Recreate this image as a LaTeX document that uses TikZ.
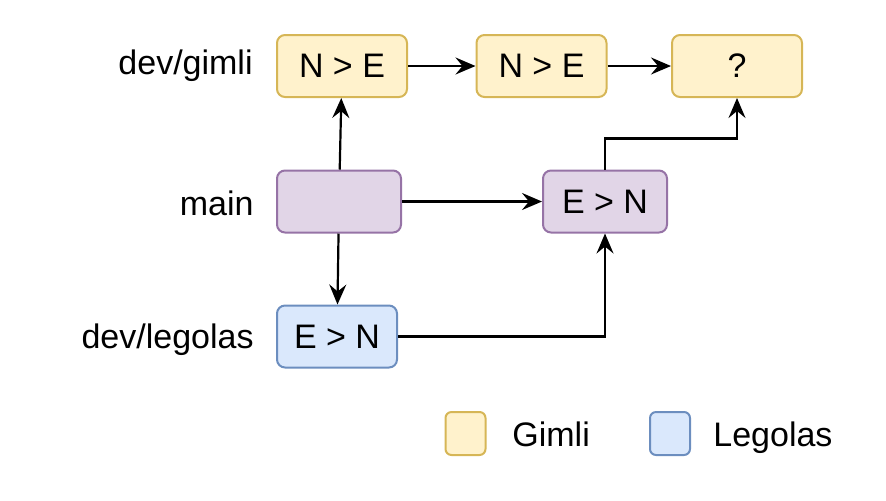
\documentclass[tikz,border=0pt]{standalone}
\usepackage{fontspec}
\setmainfont{Liberation Sans}
\usetikzlibrary{positioning, arrows.meta}
\definecolor{GimliFill}{HTML}{FFF2CC}
\definecolor{GimliLine}{HTML}{D6B656}
\definecolor{MainFill}{HTML}{E1D5E7}
\definecolor{MainLine}{HTML}{9673A6}
\definecolor{LegolasFill}{HTML}{DAE8FC}
\definecolor{LegolasLine}{HTML}{6C8EBF}
\newcommand{\labelfont}{\fontsize{17}{20}\selectfont}
\tikzset{
  commit/.style={rectangle, rounded corners=4pt, line width=1pt, inner sep=0pt,
    minimum height=31pt, font=\labelfont},
  gimli commit/.style={commit, fill=GimliFill, draw=GimliLine, minimum width=65pt},
  main commit/.style={commit, fill=MainFill, draw=MainLine, minimum width=62pt},
  legolas commit/.style={commit, fill=LegolasFill, draw=LegolasLine, minimum width=60pt},
  key box/.style={rectangle, rounded corners=3pt, line width=1pt, minimum width=20pt,
    minimum height=21.5pt, inner sep=0pt},
  branch label/.style={anchor=east, inner sep=0pt, font=\labelfont},
  key label/.style={anchor=base west, inner sep=0pt, font=\labelfont},
  history/.style={-{Stealth[length=10pt, width=8.5pt, inset=3.5pt]}, line width=1.1pt, black}
}

\begin{document}
\begin{tikzpicture}[x=0.5pt, y=-0.5pt]
    \useasboundingbox (0,0) rectangle (886,500);

    % Branch names
    \node[branch label] (lblgimli) at (253,66) {dev/gimli};
    \node[branch label] (lblmain) at (254,203) {main};
    \node[branch label] (lbllegolas) at (254,340) {dev/legolas};

    % Commits on dev/gimli
    \node[gimli commit] (gimli1) at (342,66) {N > E};
    \node[gimli commit] (gimli2) at (541.5,66) {N > E};
    \node[gimli commit] (gimli3) at (737,66) {?};

    % Commits on main
    \node[main commit] (main1) at (339,201.5) {};
    \node[main commit] (main2) at (605,201.5) {E > N};

    % Commit on dev/legolas
    \node[legolas commit] (legolas1) at (337,336.5) {E > N};

    % History
    \draw[history] (gimli1) -- (gimli2);
    \draw[history] (gimli2) -- (gimli3);
    \draw[history] (main1) -- (gimli1);
    \draw[history] (main1) -- (legolas1);
    \draw[history] (main1) -- (main2);
    \draw[history] (legolas1.east) -| (main2.south);
    \draw[history] (main2.north) -- ++(0,-31) -| (gimli3.south);

    % Legend
    \node[key box, fill=GimliFill, draw=GimliLine] (keygimli) at (465.5,433.5) {};
    \node[key label] (txtgimli) at (512,446) {Gimli};
    \node[key box, fill=LegolasFill, draw=LegolasLine] (keylegolas) at (670,433.5) {};
    \node[key label] (txtlegolas) at (713,446) {Legolas};
\end{tikzpicture}
\end{document}
